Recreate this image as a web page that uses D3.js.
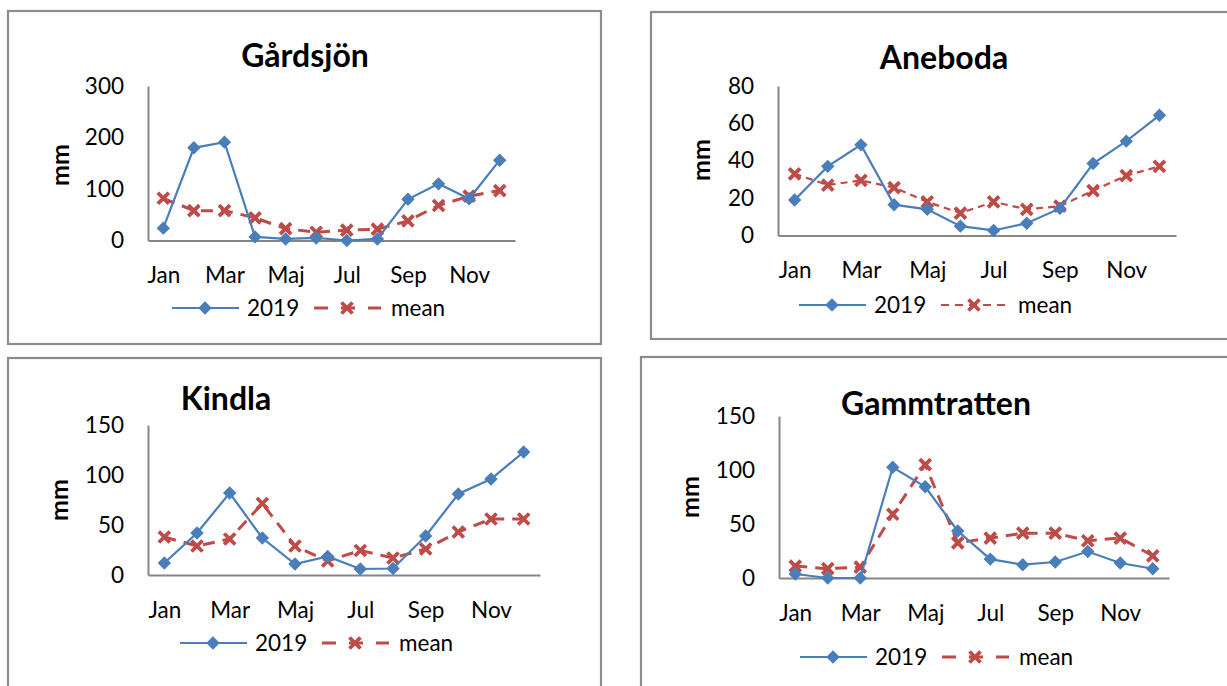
<!DOCTYPE html>
<html>
<head>
<meta charset="utf-8">
<script src="https://cdn.jsdelivr.net/npm/d3@7"></script>
<style>
  html, body { margin: 0; padding: 0; background: #ffffff; }
  svg { display: block; }
  text { font-family: Lato, "Open Sans", sans-serif; fill: #000; }
</style>
</head>
<body>
<svg id="chart" width="1227" height="686"></svg>
<script>
// ---------------- DATA ----------------
const months = ["Jan","Feb","Mar","Apr","Maj","Jun","Jul","Aug","Sep","Okt","Nov","Dec"];
const monthLabels = ["Jan","Mar","Maj","Jul","Sep","Nov"];
const seriesNames = ["2019", "mean"];
const yLabel = "mm";

const titles = ["Gårdsjön", "Aneboda", "Kindla", "Gammtratten"];

const gardsjon2019 = [24, 180, 191, 7, 3, 5, 0, 3, 80, 110, 81, 156];
const gardsjonMean = [82, 58, 58, 44, 23, 16, 20, 22, 38, 68, 86, 97];
const gardsjonTicks = [0, 100, 200, 300];

const aneboda2019 = [19, 37, 48.5, 16.5, 14, 5, 2.7, 6.6, 14.5, 38.5, 50.5, 64.3];
const anebodaMean = [33, 27, 29.5, 25.6, 18, 12, 18, 14, 15.7, 24, 32, 37];
const anebodaTicks = [0, 20, 40, 60, 80];

const kindla2019 = [12, 42, 82, 37, 11, 18.5, 6, 6.5, 39, 81, 96, 123];
const kindlaMean = [38, 29, 36, 71.5, 29, 14, 24.5, 17, 26, 43, 56, 56];
const kindlaTicks = [0, 50, 100, 150];

const gammtratten2019 = [3.7, 0, 0, 102.5, 84.5, 43.5, 17.5, 12.3, 14.8, 24.5, 13.9, 8.6];
const gammtrattenMean = [11, 8.6, 10, 59, 105, 32.5, 37, 41.5, 41.5, 34.5, 37, 20.5];
const gammtrattenTicks = [0, 50, 100, 150];

// ---------------- LAYOUT / STYLE ----------------
const COLORS = { blue: "#4A7EBB", red: "#BE4B48", axis: "#868686", border: "#8C8C8C" };
const TICK_FONT = 22.5, TITLE_FONT = 32, MM_FONT = 25;

const panels = [
  { title: titles[0], s2019: gardsjon2019, sMean: gardsjonMean, ticks: gardsjonTicks,
    box: [8, 11, 601, 344], xr: [148, 515], yr: [240.5, 86], titlePos: [305, 55],
    mmPos: [63, 165], legend: [172, 308], dash: "12,8", meanW: 3 },
  { title: titles[1], s2019: aneboda2019, sMean: anebodaMean, ticks: anebodaTicks,
    box: [651, 12, 1250, 339], xr: [778, 1176], yr: [235.5, 86], titlePos: [944, 57],
    mmPos: [704, 160], legend: [799, 305], dash: "7,5", meanW: 2.2 },
  { title: titles[2], s2019: kindla2019, sMean: kindlaMean, ticks: kindlaTicks,
    box: [8, 358, 601, 720], xr: [148, 540], yr: [575, 425], titlePos: [226, 398],
    mmPos: [62, 500], legend: [180, 643], dash: "12,8", meanW: 3 },
  { title: titles[3], s2019: gammtratten2019, sMean: gammtrattenMean, ticks: gammtrattenTicks,
    box: [641, 357, 1250, 720], xr: [779, 1169], yr: [578, 416], titlePos: [936, 403],
    mmPos: [693, 497], legend: [800, 657], dash: "12,8", meanW: 3 }
];

const svg = d3.select("#chart");
svg.append("rect").attr("width", 1227).attr("height", 686).attr("fill", "#fff");

const diamond = d3.symbol().type(d3.symbolDiamond2).size(115);

function drawX(g, cx, cy, r, w) {
  g.append("path")
    .attr("d", `M${cx - r},${cy - r}L${cx + r},${cy + r}M${cx - r},${cy + r}L${cx + r},${cy - r}`)
    .attr("stroke", COLORS.red).attr("stroke-width", w).attr("fill", "none");
}

panels.forEach(p => {
  const g = svg.append("g");
  const [bx0, by0, bx1, by1] = p.box;
  g.append("rect").attr("x", bx0).attr("y", by0).attr("width", bx1 - bx0).attr("height", by1 - by0)
    .attr("fill", "#fff").attr("stroke", COLORS.border).attr("stroke-width", 2.2);

  const x = d3.scalePoint().domain(months).range(p.xr).padding(0.5);
  const y = d3.scaleLinear().domain([0, d3.max(p.ticks)]).range(p.yr);

  // axes
  const yAxis = g.append("g").attr("transform", `translate(${p.xr[0]},0)`)
    .call(d3.axisLeft(y).tickValues(p.ticks).tickSize(0).tickSizeOuter(0).tickPadding(24).tickFormat(d3.format("d")));
  const xAxis = g.append("g").attr("transform", `translate(0,${p.yr[0]})`)
    .call(d3.axisBottom(x).tickValues(monthLabels).tickSize(0).tickSizeOuter(0).tickPadding(27));
  [yAxis, xAxis].forEach(a => {
    a.select(".domain").attr("stroke", COLORS.axis).attr("stroke-width", 2);
    a.selectAll("text").attr("font-size", TICK_FONT).attr("fill", "#000")
      .style("font-family", "Lato, 'Open Sans', sans-serif");
  });

  // title & axis title
  g.append("text").attr("x", p.titlePos[0]).attr("y", p.titlePos[1]).attr("dy", "0.36em")
    .attr("text-anchor", "middle").attr("font-size", TITLE_FONT).attr("font-weight", "bold").text(p.title);
  g.append("text").attr("transform", `translate(${p.mmPos[0]},${p.mmPos[1]}) rotate(-90)`)
    .attr("dy", "0.25em").attr("text-anchor", "middle").attr("font-size", MM_FONT).attr("font-weight", "bold").text(yLabel);

  // mean line (dashed) with X markers
  const line = d3.line().x((d, i) => x(months[i])).y(d => y(d));
  g.append("path").datum(p.sMean).attr("d", line).attr("fill", "none")
    .attr("stroke", COLORS.red).attr("stroke-width", p.meanW).attr("stroke-dasharray", p.dash);
  p.sMean.forEach((v, i) => drawX(g, x(months[i]), y(v), 5.5, 3.8));

  // 2019 line with diamonds
  g.append("path").datum(p.s2019).attr("d", line).attr("fill", "none")
    .attr("stroke", COLORS.blue).attr("stroke-width", 2.2);
  g.selectAll(".dia").data(p.s2019).enter().append("path")
    .attr("d", diamond).attr("fill", COLORS.blue)
    .attr("transform", (d, i) => `translate(${x(months[i])},${y(d)})`);

  // legend
  const [lx, ly] = p.legend;
  const lg = g.append("g");
  lg.append("line").attr("x1", lx).attr("x2", lx + 67).attr("y1", ly).attr("y2", ly)
    .attr("stroke", COLORS.blue).attr("stroke-width", 2.2);
  lg.append("path").attr("d", diamond).attr("fill", COLORS.blue).attr("transform", `translate(${lx + 33},${ly})`);
  lg.append("text").attr("x", lx + 75).attr("y", ly).attr("dy", "0.36em").attr("font-size", TICK_FONT).text(seriesNames[0]);
  lg.append("line").attr("x1", lx + 142).attr("x2", lx + 209).attr("y1", ly).attr("y2", ly)
    .attr("stroke", COLORS.red).attr("stroke-width", p.meanW).attr("stroke-dasharray", p.dash === "12,8" ? "14,13" : "8,6");
  drawX(lg, lx + 175, ly, 5.5, 3.8);
  lg.append("text").attr("x", lx + 219).attr("y", ly).attr("dy", "0.36em").attr("font-size", TICK_FONT).text(seriesNames[1]);
});
</script>
</body>
</html>
